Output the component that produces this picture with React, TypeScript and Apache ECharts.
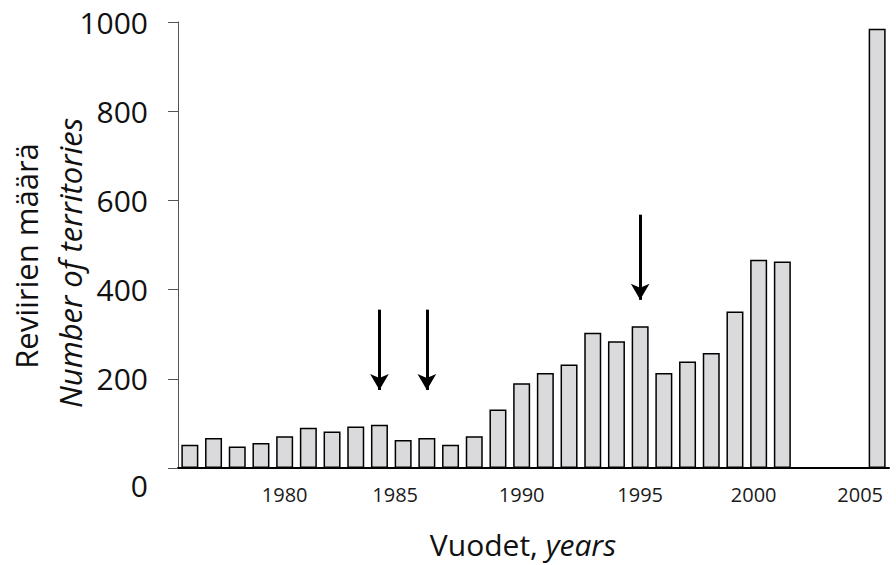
import React, { useEffect, useRef } from "react";
import * as echarts from "echarts";

const years: string[] = [
  "1976", "1977", "1978", "1979", "1980", "1981", "1982", "1983", "1984", "1985",
  "1986", "1987", "1988", "1989", "1990", "1991", "1992", "1993", "1994", "1995",
  "1996", "1997", "1998", "1999", "2000", "2001", "2002", "2003", "2004", "2005",
];
const territories: (number | null)[] = [
  52, 67, 48, 56, 71, 90, 82, 93, 97, 63,
  67, 52, 71, 131, 190, 213, 232, 303, 284, 318,
  213, 239, 258, 351, 467, 463, null, null, null, 985,
];
const yTicks: number[] = [0, 200, 400, 600, 800, 1000];
const labelledYears: string[] = ["1980", "1985", "1990", "1995", "2000", "2005"];
// arrows: [year, start value, end value]
const arrowYears: string[] = ["1984", "1986", "1995"];
const arrowStart: number[] = [355, 355, 568];
const arrowEnd: number[] = [175, 175, 377];

const FONT = "'Open Sans', Lato, sans-serif";
// label nudges (px shift to the left) to mimic the original placement
const labelShift: Record<string, string> = { "1985": "s8", "2000": "s5", "2005": "s17" };

export default function App() {
  const ref = useRef<HTMLDivElement>(null);
  useEffect(() => {
    if (!ref.current) return;
    const chart = echarts.init(ref.current, undefined, { renderer: "svg" });
    const xRichBase = { fontFamily: FONT, fontSize: 20, color: "#1a1a1a" };
    chart.setOption({
      animation: false,
      grid: { left: 178, right: 7, top: 22, bottom: 97, containLabel: false },
      xAxis: {
        type: "category",
        data: years,
        axisLine: { show: true, lineStyle: { color: "#000", width: 2 } },
        axisTick: { show: false },
        axisLabel: {
          interval: (_i: number, v: string) => labelledYears.includes(v),
          fontFamily: FONT,
          fontSize: 20,
          color: "#1a1a1a",
          margin: 16,
          formatter: (v: string) => "{" + (labelShift[v] || "n") + "|" + v + "}",
          rich: {
            n: { ...xRichBase },
            s8: { ...xRichBase, padding: [0, 16, 0, 0] },
            s5: { ...xRichBase, padding: [0, 10, 0, 0] },
            s17: { ...xRichBase, padding: [0, 34, 0, 0] },
          },
        },
        splitLine: { show: false },
      },
      yAxis: {
        type: "value",
        min: yTicks[0],
        max: yTicks[yTicks.length - 1],
        interval: 200,
        axisLine: { show: true, lineStyle: { color: "#555", width: 1 } },
        axisTick: { show: true, length: 10, lineStyle: { color: "#555", width: 1 } },
        splitLine: { show: false },
        axisLabel: {
          margin: 30,
          fontFamily: FONT,
          fontSize: 30,
          color: "#111",
          formatter: (v: number) => (v === 0 ? "{z|0}" : "{a|" + v + "}"),
          rich: {
            a: { fontFamily: FONT, fontSize: 30, color: "#111" },
            z: { fontFamily: FONT, fontSize: 30, color: "#111", padding: [34, 0, 0, 0] },
          },
        },
      },
      series: [
        {
          type: "bar",
          data: territories,
          barWidth: 17,
          itemStyle: { color: "#dadadc", borderColor: "#000", borderWidth: 1.5 },
          markLine: {
            silent: true,
            symbol: ["none", "arrow"],
            symbolSize: [14, 16],
            label: { show: false },
            lineStyle: { color: "#000", width: 3, type: "solid" },
            data: arrowYears.map((y, i) => [
              { coord: [y, arrowStart[i]] },
              { coord: [y, arrowEnd[i]] },
            ]),
          },
        },
      ],
      graphic: [
        {
          type: "text",
          x: 523,
          y: 544,
          style: {
            text: "{a|Vuodet, }{b|years}",
            align: "center",
            verticalAlign: "middle",
            rich: {
              a: { fontFamily: FONT, fontSize: 30, lineHeight: 32, fill: "#111" },
              b: { fontFamily: FONT, fontSize: 30, lineHeight: 32, fontStyle: "italic", fill: "#111" },
            },
          },
        },
        {
          type: "text",
          x: 26,
          y: 256,
          rotation: Math.PI / 2,
          style: {
            text: "Reviirien määrä",
            align: "center",
            verticalAlign: "middle",
            fontFamily: FONT,
            fontSize: 31,
            fill: "#111",
          },
        },
        {
          type: "text",
          x: 70,
          y: 263,
          rotation: Math.PI / 2,
          style: {
            text: "Number of territories",
            align: "center",
            verticalAlign: "middle",
            fontFamily: FONT,
            fontSize: 31,
            fontStyle: "italic",
            fill: "#111",
          },
        },
      ],
    });
    return () => chart.dispose();
  }, []);
  return (
    <div
      ref={ref}
      style={{ position: "fixed", left: 0, top: 0, width: 896, height: 565, background: "#fff" }}
    />
  );
}
